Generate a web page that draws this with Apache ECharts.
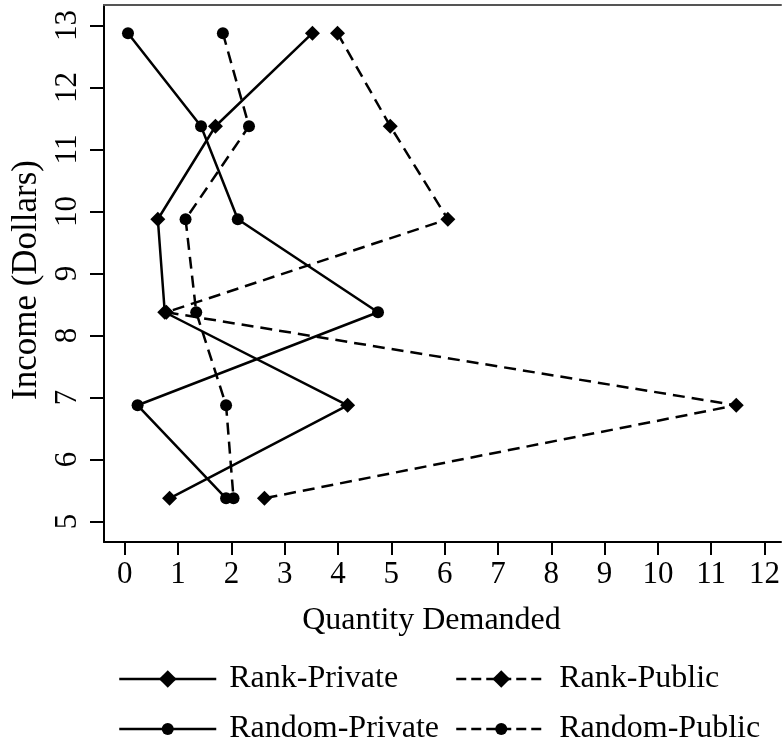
<!DOCTYPE html>
<html>
<head>
<meta charset="utf-8">
<script src="https://cdn.jsdelivr.net/npm/echarts@6/dist/echarts.min.js"></script>
<style>
html,body{margin:0;padding:0;background:#fff;}
#chart{width:783px;height:749px;}
</style>
</head>
<body>
<div id="chart"></div>
<script>
// Income levels (y) for each observation, top to bottom
const incomeLevels = [12.875, 11.375, 9.875, 8.375, 6.875, 5.375];
// Quantity demanded (x) per series
const rankPrivate   = [3.52, 1.70, 0.62, 0.75, 4.18, 0.84];
const rankPublic    = [3.99, 4.98, 6.06, 0.78, 11.47, 2.62];
const randomPrivate = [0.06, 1.43, 2.12, 4.75, 0.24, 1.90];
const randomPublic  = [1.84, 2.33, 1.14, 1.34, 1.90, 2.04];
// Tick labels
const xTicks = [0,1,2,3,4,5,6,7,8,9,10,11,12];
const yTicks = [5,6,7,8,9,10,11,12,13];
const seriesNames = ['Rank-Private','Rank-Public','Random-Private','Random-Public'];

const FONT = '"Liberation Serif", "Times New Roman", serif';
const DIAMOND = 'path://M0,-1L1,0L0,1L-1,0Z';
const DASH = [12, 7];

function pairs(xs){ return xs.map((x,i)=>[x, incomeLevels[i]]); }

function mkSeries(name, xs, dashed, symbol, size){
  return {
    name: name, type: 'line', data: pairs(xs),
    symbol: symbol, symbolSize: size, showSymbol: true,
    itemStyle: {color: '#000'},
    lineStyle: {color: '#000', width: 2.5, type: dashed ? DASH : 'solid'},
    emphasis: {disabled: true},
    animation: false, clip: false, z: 3
  };
}

function mkLegend(name, left, top, w, h, dashed){
  return {
    data: [name], left: left, top: top, padding: 0,
    itemWidth: w, itemHeight: h, selectedMode: false,
    lineStyle: {width: 2.5, type: dashed ? [10, 5] : 'solid'},
    textStyle: {fontFamily: FONT, fontSize: 32, color: '#000', lineHeight: 36, padding: [0,0,0,8]}
  };
}

const chart = echarts.init(document.getElementById('chart'), null, {renderer: 'canvas'});
chart.setOption({
  animation: false,
  backgroundColor: '#fff',
  grid: {left: 104, right: 0, top: 5, bottom: 207, containLabel: false},
  xAxis: [{
    type: 'value', min: -0.39, max: 12.31,
    name: 'Quantity Demanded', nameLocation: 'middle', nameGap: 63,
    nameTextStyle: {fontFamily: FONT, fontSize: 32, color: '#000', padding: [0,22,0,0]},
    axisLine: {show: true, onZero: false, lineStyle: {color: '#000', width: 2}},
    axisTick: {show: true, length: 13, lineStyle: {color: '#000', width: 2}, customValues: xTicks},
    axisLabel: {fontFamily: FONT, fontSize: 31, color: '#000', margin: 17, customValues: xTicks},
    splitLine: {show: false}
  },{
    type: 'value', position: 'top', min: -0.39, max: 12.31,
    axisLine: {show: true, lineStyle: {color: '#555', width: 2}},
    axisTick: {show: false}, axisLabel: {show: false}, splitLine: {show: false}
  }],
  yAxis: {
    type: 'value', min: 4.67, max: 13.33,
    name: 'Income (Dollars)', nameLocation: 'middle', nameGap: 60,
    nameTextStyle: {fontFamily: FONT, fontSize: 35, color: '#000', padding: [0,13,0,0]},
    axisLine: {show: true, onZero: false, lineStyle: {color: '#000', width: 2}},
    axisTick: {show: true, length: 14, lineStyle: {color: '#000', width: 2}, customValues: yTicks},
    axisLabel: {fontFamily: FONT, fontSize: 31, color: '#000', margin: 21, rotate: 90, customValues: yTicks},
    splitLine: {show: false}
  },
  legend: [
    mkLegend(seriesNames[0], 118, 661, 97, 22, false),
    mkLegend(seriesNames[1], 455, 661, 90, 22, true),
    mkLegend(seriesNames[2], 118, 711, 97, 15, false),
    mkLegend(seriesNames[3], 455, 711, 90, 15, true)
  ],
  series: [
    mkSeries(seriesNames[0], rankPrivate, false, DIAMOND, 15),
    mkSeries(seriesNames[1], rankPublic, true, DIAMOND, 15),
    mkSeries(seriesNames[2], randomPrivate, false, 'circle', 12),
    mkSeries(seriesNames[3], randomPublic, true, 'circle', 12)
  ]
});
</script>
</body>
</html>
